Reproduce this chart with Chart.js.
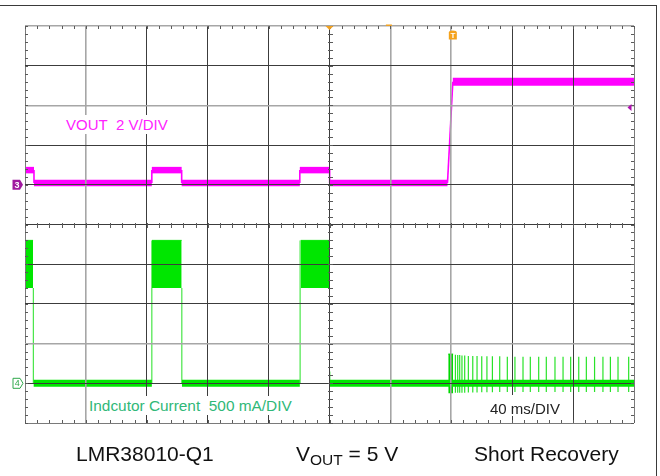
<!DOCTYPE html>
<html>
<head>
<meta charset="utf-8">
<script src="https://cdn.jsdelivr.net/npm/chart.js@4.4.1/dist/chart.umd.min.js"></script>
<style>
html,body{margin:0;padding:0;background:#fff;}
#wrap{position:relative;width:660px;height:476px;overflow:hidden;font-family:"Liberation Sans",Arial,sans-serif;}
#frame{position:absolute;left:-2px;top:5px;width:658px;height:480px;border-top:1px solid #3a3a3a;border-right:1px solid #3a3a3a;}
canvas{position:absolute;left:0;top:0;}
.t{position:absolute;white-space:nowrap;}
.lab{background:#fff;}
.t sub{font-size:15.5px;vertical-align:-4px;line-height:inherit;}
</style>
</head>
<body>
<div id="wrap">
  <div id="frame"></div>
  <canvas id="c" width="660" height="476"></canvas>
  <div class="t lab" style="left:64px;top:115px;padding:2px 2px;font-size:15px;line-height:15px;color:#ff22ff;">VOUT&nbsp; 2 V/DIV</div>
  <div class="t lab" style="left:87px;top:396px;padding:2px 2px;font-size:15.4px;line-height:15px;color:#30b878;">Indcutor Current&nbsp; 500 mA/DIV</div>
  <div class="t lab" style="left:487px;top:395px;padding:6px 3px 0 3px;font-size:15px;line-height:15px;color:#222;">40 ms/DIV</div>
  <div class="t" style="left:76px;top:443px;font-size:21px;line-height:21px;color:#111;">LMR38010-Q1</div>
  <div class="t" style="left:296px;top:443px;font-size:21px;line-height:21px;color:#111;">V<sub>OUT</sub> = 5 V</div>
  <div class="t" style="left:474px;top:443px;font-size:21px;line-height:21px;color:#111;">Short Recovery</div>
</div>
<script>
// ---------- axes (scope divisions) ----------
const timeMin = 0, timeMax = 400, timeStep = 40;      // ms, 40 ms/DIV
const voutMin = -12, voutMax = 8, voutStep = 2;       // V, 2 V/DIV (ch3 ground at 0 V)
const ilMin = -500, ilMax = 4500;                     // mA, 500 mA/DIV (ch4 ground at 0 mA)

// ---------- channel 3 : VOUT (V) ----------
const voutTime  = [0,    5.9,  5.9,  83.3, 83.3, 102.9, 102.9, 180.5, 180.5, 200.1, 200.1, 277.5, 281.0, 400];
const voutLevel = [0.74, 0.74, 0.09, 0.09, 0.74, 0.74,  0.09,  0.09,  0.74,  0.74,  0.09,  0.09,  5.19,  5.19];

// ---------- channel 4 : inductor current (mA) ----------
const ilIdleFrom = [5.7, 103.1, 200.3];
const ilIdleTo   = [83.3, 180.5, 400];
const ilIdleLevel = 0;
const ilBurstFrom = [0, 83.4, 181.1];
const ilBurstTo   = [5.3, 102.9, 200.1];
const ilBurstHigh = 1800;
const ilBurstLow  = 1200;
const ilEdgeTime = [5.5, 83.3, 103.0, 180.7, 200.2];
const ilEdgeFrom = [1200, 0, 1200, 0, 0];
const ilEdgeTo   = [0, 1800, 0, 1800, 150];
const ilRecoveryFrom = 278.0, ilRecoveryTo = 281.2;
const ilRecoveryHigh = 368, ilRecoveryLow = -126;
const ilSpikeTime = [282.7, 284.2, 285.5, 287.0, 288.8, 291.2, 294.1, 296.9, 300.0, 303.4, 307.0, 311.8, 316.8, 321.8,
                     327.1, 331.9, 337.4, 342.4, 348.1, 353.4, 358.4, 363.7, 368.7, 374.1, 379.6, 384.5, 389.5, 396.5];
const ilSpikeHigh = [360, 355, 355, 350, 350, 345, 345, 345, 340, 340, 340, 340, 335, 335,
                     335, 335, 335, 335, 335, 335, 335, 335, 335, 335, 335, 335, 335, 335];
const ilSpikeLow  = [-120, -120, -118, -118, -118, -115, -115, -115, -112, -112, -112, -110, -110, -110,
                     -110, -110, -110, -110, -110, -110, -110, -110, -110, -110, -110, -110, -110, -110];

// ---------- markers ----------
const triggerTime = 281;      // "T" trigger marker (ms)
const triggerLevel = 3.9;     // trigger level arrow (V, ch3)
const hPosTime = 200;         // horizontal position marker (ms)
const hOverviewTime = 239;    // small orange marker on top edge (ms)

// ---------- build datasets ----------
const voutData = voutTime.map((t, i) => ({x: t, y: voutLevel[i]}));
function pairs(from, to, yFrom, yTo) {
  const out = [];
  from.forEach((f, i) => {
    out.push({x: f, y: Array.isArray(yFrom) ? yFrom[i] : yFrom});
    out.push({x: to[i], y: Array.isArray(yTo) ? yTo[i] : yTo});
    out.push({x: to[i], y: null});
  });
  return out;
}
const ilIdleData  = pairs(ilIdleFrom, ilIdleTo, ilIdleLevel, ilIdleLevel);
const ilBurstData = pairs(ilBurstFrom, ilBurstTo, ilBurstHigh, ilBurstHigh);
const ilEdgeData  = pairs(ilEdgeTime, ilEdgeTime, ilEdgeFrom, ilEdgeTo);
const ilSpikeData = pairs(ilSpikeTime, ilSpikeTime, ilSpikeLow, ilSpikeHigh);
const ilRecData   = [{x: ilRecoveryFrom, y: ilRecoveryHigh}, {x: ilRecoveryTo, y: ilRecoveryHigh}];

const MAG = '#ff00ff', GRN = '#00e600';

// grid style per division line
const xLight = [1, 6, 7], yLight = [2, 8, 10];
function gridColor(light, edge) { return (ctx) => light.includes(ctx.index) ? '#a6a6a6' : (edge.includes(ctx.index) ? '#7a7a7a' : '#3c3c3c'); }
function gridWidth(light) { return (ctx) => light.includes(ctx.index) ? 1.6 : 1; }

const scopePlugin = {
  id: 'scopeMarkers',
  afterDraw(chart) {
    const {ctx, chartArea: a, scales: {x, y, y1}} = chart;
    ctx.save();
    const seg = (x0, y0, x1, y1_) => { ctx.beginPath(); ctx.moveTo(x0, y0); ctx.lineTo(x1, y1_); ctx.stroke(); };
    // minor ticks (5 per division) on borders and centre cross
    ctx.strokeStyle = '#5a5a5a'; ctx.lineWidth = 1;
    const cx = Math.round(x.getPixelForValue((timeMin + timeMax) / 2)) + 0.5;
    const cy = Math.round(y.getPixelForValue(voutMin + (voutMax - voutMin) / 2)) + 0.5;
    const nx = (timeMax - timeMin) / timeStep * 5;
    for (let i = 0; i <= nx; i++) {
      const px = Math.round(x.getPixelForValue(timeMin + i * timeStep / 5)) + 0.5;
      seg(px, a.top, px, a.top + 3);
      seg(px, a.bottom - 3, px, a.bottom);
      seg(px, cy - 2.5, px, cy + 2.5);
    }
    const ny = (voutMax - voutMin) / voutStep * 5;
    for (let i = 0; i <= ny; i++) {
      const py = Math.round(y.getPixelForValue(voutMin + i * voutStep / 5)) + 0.5;
      seg(a.left, py, a.left + 3, py);
      seg(a.right - 3, py, a.right, py);
      seg(cx - 2.5, py, cx + 2.5, py);
    }
    // channel 3 ground marker
    const g3 = y.getPixelForValue(0);
    const L = a.left - 12.5;
    ctx.fillStyle = '#a0189f';
    ctx.beginPath();
    ctx.moveTo(L, g3 - 5); ctx.lineTo(L + 7.5, g3 - 5); ctx.lineTo(L + 10.5, g3);
    ctx.lineTo(L + 7.5, g3 + 5); ctx.lineTo(L, g3 + 5); ctx.closePath(); ctx.fill();
    ctx.fillStyle = '#fff'; ctx.font = 'bold 9px "Liberation Sans", Arial';
    ctx.textAlign = 'center'; ctx.textBaseline = 'middle';
    ctx.fillText('3', L + 4.5, g3 + 0.5);
    // channel 4 ground marker
    const g4 = y1.getPixelForValue(0);
    ctx.fillStyle = '#fff'; ctx.strokeStyle = '#2fa84a'; ctx.lineWidth = 1;
    ctx.beginPath();
    ctx.moveTo(L + 0.5, g4 - 5); ctx.lineTo(L + 7.5, g4 - 5); ctx.lineTo(L + 10.5, g4);
    ctx.lineTo(L + 7.5, g4 + 5); ctx.lineTo(L + 0.5, g4 + 5); ctx.closePath(); ctx.fill(); ctx.stroke();
    ctx.fillStyle = '#2fa84a'; ctx.font = '9px "Liberation Sans", Arial';
    ctx.fillText('4', L + 4.8, g4 + 0.5);
    // horizontal position marker (top, centre)
    const hp = x.getPixelForValue(hPosTime);
    ctx.fillStyle = '#f0a020';
    ctx.beginPath(); ctx.moveTo(hp - 4, a.top); ctx.lineTo(hp + 4, a.top); ctx.lineTo(hp, a.top + 4); ctx.closePath(); ctx.fill();
    const ho = x.getPixelForValue(hOverviewTime);
    ctx.fillRect(ho - 3, a.top - 1.5, 6, 1.5);
    // trigger "T" marker
    const tp = x.getPixelForValue(triggerTime);
    ctx.fillStyle = '#f5a21c';
    ctx.beginPath();
    ctx.moveTo(tp - 4, a.top + 6.5);
    ctx.quadraticCurveTo(tp - 4, a.top + 4.5, tp, a.top + 4.5);
    ctx.quadraticCurveTo(tp + 4, a.top + 4.5, tp + 4, a.top + 6.5);
    ctx.lineTo(tp + 4, a.top + 13.5); ctx.lineTo(tp - 4, a.top + 13.5); ctx.closePath(); ctx.fill();
    ctx.fillStyle = '#fff'; ctx.font = 'bold 8px "Liberation Sans", Arial';
    ctx.fillText('T', tp, a.top + 9.8);
    // trigger level arrow (right edge)
    const tl = y.getPixelForValue(triggerLevel);
    ctx.fillStyle = '#b010b0';
    ctx.beginPath(); ctx.moveTo(a.right - 6.5, tl); ctx.lineTo(a.right - 2.5, tl - 3.5); ctx.lineTo(a.right - 2.5, tl + 3.5); ctx.closePath(); ctx.fill();
    ctx.restore();
  }
};

new Chart(document.getElementById('c'), {
  type: 'line',
  data: {
    datasets: [
      { label: 'VOUT', data: voutData, yAxisID: 'y', borderColor: MAG, borderWidth: 6.5,
        segment: { borderWidth: c => (c.p0.parsed.y === c.p1.parsed.y ? (c.p0.parsed.y > 3 ? 8 : 6.5) : 1.6) } },
      { label: 'IL idle', data: ilIdleData, yAxisID: 'y1', borderColor: GRN, borderWidth: 7, spanGaps: false },
      { label: 'IL burst', data: ilBurstData, yAxisID: 'y1', borderColor: GRN, borderWidth: 1, spanGaps: false,
        backgroundColor: GRN, fill: {value: ilBurstLow} },
      { label: 'IL edges', data: ilEdgeData, yAxisID: 'y1', borderColor: 'rgba(40,225,40,0.85)', borderWidth: 1.2, spanGaps: false },
      { label: 'IL recovery', data: ilRecData, yAxisID: 'y1', borderColor: '#00d800', borderWidth: 1,
        backgroundColor: '#00d800', fill: {value: ilRecoveryLow} },
      { label: 'IL spikes', data: ilSpikeData, yAxisID: 'y1', borderColor: 'rgba(30,225,30,0.95)', borderWidth: 1.2, spanGaps: false }
    ]
  },
  options: {
    responsive: false,
    animation: false,
    layout: { padding: { left: 25, top: 26, right: 26, bottom: 53 } },
    plugins: { legend: { display: false }, tooltip: { enabled: false } },
    elements: { point: { radius: 0 }, line: { tension: 0, borderCapStyle: 'butt', borderJoinStyle: 'miter' } },
    scales: {
      x: { type: 'linear', min: timeMin, max: timeMax,
           ticks: { display: false, stepSize: timeStep },
           grid: { z: 1, drawTicks: false, color: gridColor(xLight, [0, 10]), lineWidth: gridWidth(xLight) },
           border: { display: false } },
      y: { type: 'linear', min: voutMin, max: voutMax,
           ticks: { display: false, stepSize: voutStep },
           grid: { z: 1, drawTicks: false, color: gridColor(yLight, [0]), lineWidth: gridWidth(yLight) },
           border: { display: false } },
      y1: { type: 'linear', display: false, min: ilMin, max: ilMax }
    }
  },
  plugins: [scopePlugin]
});
</script>
</body>
</html>
